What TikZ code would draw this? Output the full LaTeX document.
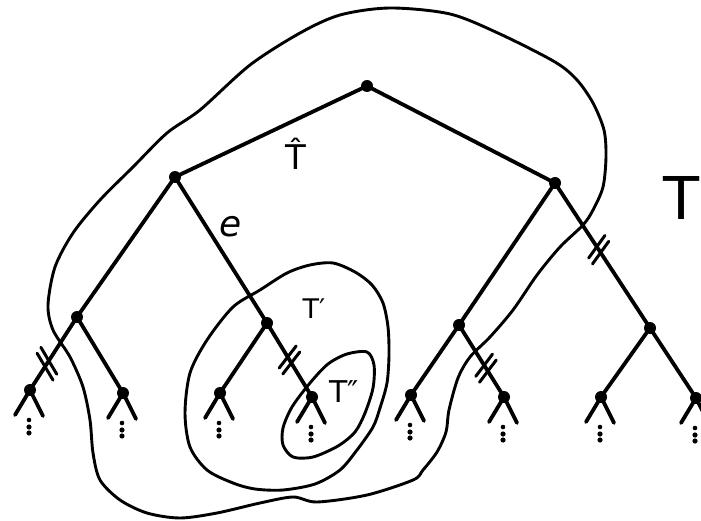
\documentclass[tikz,border=0pt]{standalone}
\usepackage{fontspec}
\setmainfont{DejaVu Sans}
\usetikzlibrary{decorations.markings}
\tikzset{
  vert/.style={circle,fill=black,inner sep=0pt,minimum size=12pt},
  edge/.style={line width=3.8pt,line cap=round},
  region/.style={line width=2.9pt,line join=round},
  tickline/.style={line width=3pt,line cap=round},
  lbl/.style={inner sep=0pt,anchor=base},
  cutplus/.style={postaction={decorate},decoration={markings,mark=at position #1 with {
      \draw[tickline] (-10.5pt,-14pt) -- (3.5pt,14pt);
      \draw[tickline] (-3.5pt,-14pt) -- (10.5pt,14pt);}}},
  cutminus/.style={postaction={decorate},decoration={markings,mark=at position #1 with {
      \draw[tickline] (1.5pt,-13pt) -- (-8.5pt,13pt);
      \draw[tickline] (8.5pt,-13pt) -- (-1.5pt,13pt);}}}
}
\begin{document}
\begin{tikzpicture}[x=1pt,y=-1pt]
\useasboundingbox (0,0) rectangle (701,521);

% region T-hat
\draw[region] plot[smooth cycle] coordinates {
 (390,8) (450,14) (500,34) (555,62) (577,80) (593,103) (604,130) (606,157)
 (603,187) (593,210) (583,225) (560,247) (537,275) (513,310) (490,337)
 (470,357) (458,378) (449,410) (446,432) (437,452) (423,470) (413,480)
 (367,495) (317,502) (293,497) (260,503) (217,513) (180,518) (147,513)
 (120,500) (100,480) (93,453) (90,420) (83,387) (70,357) (53,330) (48,305)
 (55,267) (73,233) (100,200) (133,167) (167,133) (200,110) (250,65)
 (300,33) (340,15)};

% region T'
\draw[region] plot[smooth cycle] coordinates {
 (333,263) (355,272) (372,285) (383,303) (388,327) (389,355) (387,383)
 (380,408) (373,427) (357,450) (340,470) (315,484) (283,490) (255,489)
 (233,483) (207,470) (190,447) (185,413) (190,373) (207,340) (233,307)
 (260,290) (287,273) (310,265)};

% region T''
\draw[region] plot[smooth cycle] coordinates {
 (367,352) (374,365) (373,388) (365,413) (355,432) (338,446) (313,457)
 (293,457) (283,445) (283,428) (292,407) (310,383) (328,364) (347,354)};

% vertices
\node[vert] (R) at (367,86) {};
\node[vert] (A) at (175,177) {};
\node[vert] (B) at (555,183) {};
\node[vert] (C) at (77,317) {};
\node[vert] (D) at (267,323) {};
\node[vert] (E) at (459,325) {};
\node[vert] (F) at (650,328) {};
\node[vert] (C1) at (30,390) {};
\node[vert] (C2) at (123,393) {};
\node[vert] (D1) at (220,393) {};
\node[vert] (D2) at (312,397) {};
\node[vert] (E1) at (411,395) {};
\node[vert] (E2) at (504,397) {};
\node[vert] (F1) at (601,397) {};
\node[vert] (F2) at (696,398) {};

% edges
\draw[edge] (R.center) -- (A.center);
\draw[edge] (R.center) -- (B.center);
\draw[edge] (A.center) -- (C.center);
\draw[edge] (A.center) -- (D.center);
\draw[edge] (B.center) -- (E.center);
\draw[edge,cutminus=0.46] (B.center) -- (F.center);
\draw[edge,cutplus=0.64] (C.center) -- (C1.center);
\draw[edge] (C.center) -- (C2.center);
\draw[edge] (D.center) -- (D1.center);
\draw[edge,cutminus=0.5] (D.center) -- (D2.center);
\draw[edge] (E.center) -- (E1.center);
\draw[edge,cutminus=0.6] (E.center) -- (E2.center);
\draw[edge] (F.center) -- (F1.center);
\draw[edge] (F.center) -- (F2.center);

% leaf stubs and dots
\foreach \n in {C1,C2,D1,D2,E1,E2,F1,F2} {
  \coordinate (\n l) at ([shift={(-15,25)}]\n.center);
  \coordinate (\n r) at ([shift={(13,26)}]\n.center);
  \draw[edge] (\n.center) -- (\n l);
  \draw[edge] (\n.center) -- (\n r);
  \fill ([shift={(-1,30)}]\n.center) circle (2.3pt);
  \fill ([shift={(-1,37)}]\n.center) circle (2.6pt);
  \fill ([shift={(-1,43)}]\n.center) circle (2.6pt);
}

% labels
\node[lbl] (lThat) at (296,170) {\fontsize{34}{34}\selectfont \^{T}};
\node[lbl] (le) at (231,237) {\fontsize{36}{36}\selectfont\itshape e};
\node[lbl] (lT) at (682,220) {\fontsize{59}{59}\selectfont T};
\node[lbl] (lTp) at (314,318) {\fontsize{27}{27}\selectfont T′};
\node[lbl] (lTpp) at (344,402) {\fontsize{30}{30}\selectfont T″};
\end{tikzpicture}
\end{document}
